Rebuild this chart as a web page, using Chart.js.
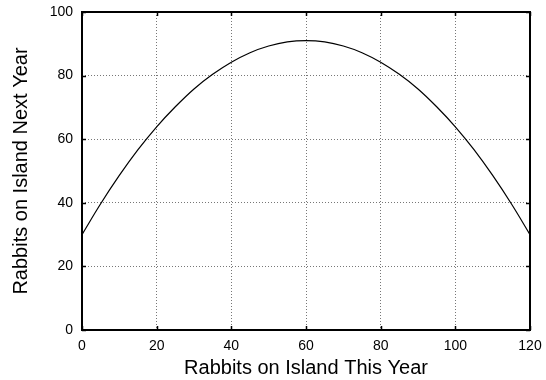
<!DOCTYPE html>
<html>
<head>
<meta charset="utf-8">
<script src="https://cdn.jsdelivr.net/npm/chart.js@4/dist/chart.umd.min.js"></script>
<style>
  html, body { margin: 0; padding: 0; background: #fff; }
  #box { width: 546px; height: 380px; }
</style>
</head>
<body>
<div id="box"><canvas id="myChart" width="546" height="380"></canvas></div>
<script>
// rabbits this year (x) and next year (y)
const rabbitsNow = [0, 5, 10, 15, 20, 25, 30, 35, 40, 45, 50, 55, 60,
  65, 70, 75, 80, 85, 90, 95, 100, 105, 110, 115, 120];
const rabbitsNext = [30, 39.7, 48.6, 56.7, 63.9, 70.2, 75.8, 80.4, 84.2, 87.2, 89.3, 90.6, 91,
  90.6, 89.3, 87.2, 84.2, 80.4, 75.8, 70.2, 63.9, 56.7, 48.6, 39.7, 30];
// tick labels
const xTicks = [0, 20, 40, 60, 80, 100, 120];
const yTicks = [0, 20, 40, 60, 80, 100];

window.addEventListener("DOMContentLoaded", () => {
  const ctx = document.getElementById("myChart").getContext("2d");

  Chart.defaults.font.family = "'Liberation Sans', Arial, sans-serif";
  Chart.defaults.font.size = 14;
  Chart.defaults.color = "#000";

  // рамка вокруг графика + внутренние засечки
  const frame = {
    id: "frame",
    afterDraw(chart) {
      const { ctx, chartArea: a, scales } = chart;
      ctx.save();
      ctx.strokeStyle = "#000";
      ctx.lineWidth = 1.5;
      xTicks.forEach((v) => {
        const px = Math.round(scales.x.getPixelForValue(v)) + 0.5;
        ctx.beginPath();
        ctx.moveTo(px, a.bottom);
        ctx.lineTo(px, a.bottom - 4);
        ctx.moveTo(px, a.top);
        ctx.lineTo(px, a.top + 4);
        ctx.stroke();
      });
      yTicks.forEach((v) => {
        const py = Math.round(scales.y.getPixelForValue(v)) + 0.5;
        ctx.beginPath();
        ctx.moveTo(a.left, py);
        ctx.lineTo(a.left + 4, py);
        ctx.moveTo(a.right, py);
        ctx.lineTo(a.right - 4, py);
        ctx.stroke();
      });
      ctx.lineWidth = 2;
      ctx.strokeRect(a.left, a.top, a.right - a.left, a.bottom - a.top);
      ctx.restore();
    },
  };

  const points = rabbitsNow.map((x, i) => ({ x, y: rabbitsNext[i] }));

  new Chart(ctx, {
    type: "line",
    data: {
      datasets: [
        {
          data: points,
          borderColor: "#000",
          borderWidth: 1.2,
          pointRadius: 0,
          tension: 0.4,
          fill: false,
        },
      ],
    },
    options: {
      responsive: false,
      animation: false,
      layout: { padding: { top: 12, right: 16, left: 0, bottom: 0 } },
      plugins: {
        legend: { display: false },
        tooltip: { enabled: false },
      },
      scales: {
        x: {
          type: "linear",
          min: 0,
          max: 120,
          afterFit: (s) => {
            s.height = 50;
            s.paddingLeft = 0;
            s.paddingRight = 0;
          },
          afterBuildTicks: (s) => { s.ticks = xTicks.map((v) => ({ value: v })); },
          grid: { color: "#777", drawTicks: false },
          border: { display: false, dash: [1, 2] },
          ticks: { padding: 8, maxRotation: 0 },
          title: {
            display: true,
            text: "Rabbits on Island This Year",
            font: { size: 20 },
            padding: { top: 0, bottom: 0 },
          },
        },
        y: {
          min: 0,
          max: 100,
          afterFit: (s) => {
            s.width = 82;
            s.paddingTop = 0;
            s.paddingBottom = 0;
          },
          afterBuildTicks: (s) => { s.ticks = yTicks.map((v) => ({ value: v })); },
          grid: { color: "#777", drawTicks: false },
          border: { display: false, dash: [1, 2] },
          ticks: { padding: 9 },
          title: {
            display: true,
            text: "Rabbits on Island Next Year",
            font: { size: 20 },
            padding: { top: 9, bottom: 0 },
          },
        },
      },
    },
    plugins: [frame],
  });
});
</script>
</body>
</html>
